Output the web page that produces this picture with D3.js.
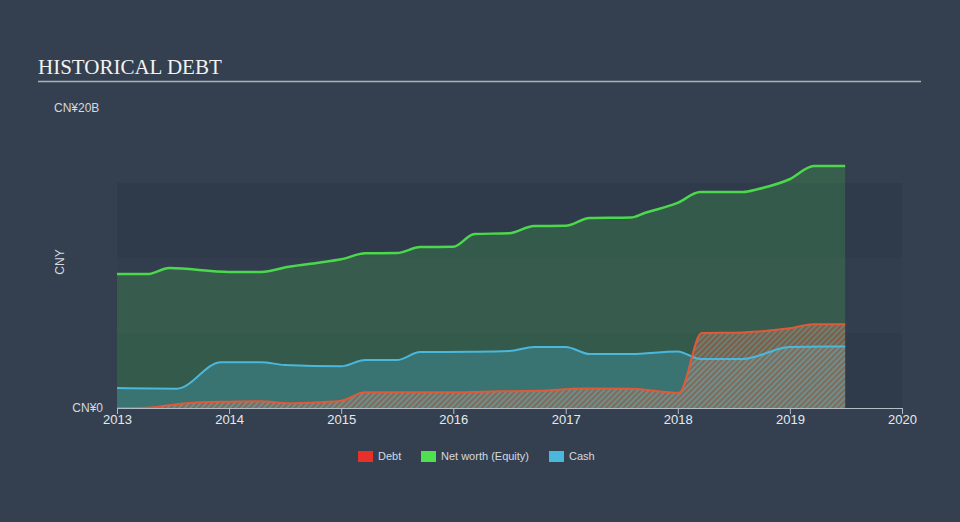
<!DOCTYPE html>
<html>
<head>
<meta charset="utf-8">
<script src="https://cdn.jsdelivr.net/npm/d3@7"></script>
<style>
    html, body { margin: 0; padding: 0; background: #34404f; }
    svg { display: block; font-family: "Liberation Sans", Arial, sans-serif; }
</style>
</head>
<body>
<div id="chart"></div>
<script>
    // values in CN¥ billions
    var equityDates  = ["2013-01-01", "2013-04-10", "2013-06-20", "2013-12-31", "2014-04-15", "2014-07-15", "2014-10-20", "2015-01-01", "2015-03-20", "2015-07-01", "2015-09-15", "2016-01-01", "2016-03-10", "2016-07-01", "2016-09-20", "2017-01-01", "2017-03-20", "2017-08-01", "2017-09-15", "2017-12-31", "2018-03-15", "2018-08-01", "2018-09-20", "2018-12-31", "2019-03-20", "2019-06-30"];
    var equityValues = [8.93, 8.93, 9.33, 9.07, 9.07, 9.42, 9.69, 9.91, 10.31, 10.33, 10.73, 10.75, 11.6, 11.65, 12.13, 12.15, 12.67, 12.7, 13.0, 13.67, 14.4, 14.4, 14.6, 15.25, 16.13, 16.13];

    var cashDates  = ["2013-01-01", "2013-07-15", "2013-12-05", "2014-04-15", "2014-07-01", "2015-01-01", "2015-03-20", "2015-07-01", "2015-09-15", "2016-03-01", "2016-07-01", "2016-09-20", "2017-01-01", "2017-03-20", "2017-08-01", "2017-12-31", "2018-03-15", "2018-08-01", "2018-12-31", "2019-06-30"];
    var cashValues = [1.33, 1.29, 3.05, 3.05, 2.87, 2.78, 3.2, 3.2, 3.73, 3.75, 3.8, 4.07, 4.07, 3.6, 3.6, 3.77, 3.27, 3.27, 4.07, 4.1];

    var debtDates  = ["2013-01-01", "2013-04-10", "2013-07-01", "2013-10-01", "2014-01-01", "2014-04-15", "2014-07-15", "2014-10-20", "2015-01-01", "2015-03-20", "2015-07-01", "2016-01-01", "2016-06-01", "2016-10-01", "2017-03-01", "2017-08-01", "2018-01-05", "2018-03-20", "2018-08-01", "2018-09-20", "2018-12-31", "2019-03-20", "2019-06-30"];
    var debtValues = [0, 0.02, 0.22, 0.38, 0.42, 0.45, 0.31, 0.38, 0.49, 1.05, 1.05, 1.05, 1.11, 1.15, 1.3, 1.29, 1.02, 5.0, 5.04, 5.1, 5.31, 5.58, 5.58];

    var yearTicks = [2013, 2014, 2015, 2016, 2017, 2018, 2019, 2020];
    var bandStops = [0, 5, 10, 15];
    var legendLabels = ["Debt", "Net worth (Equity)", "Cash"];
    var legendColors = ["#e8302a", "#4fe04f", "#4ab8dc"];

    var width = 960, height = 522;
    var parse = d3.timeParse("%Y-%m-%d");

    function series(dates, values) {
        return dates.map(function (d, i) { return { date: parse(d), value: values[i] }; });
    }
    var equity = series(equityDates, equityValues);
    var cash = series(cashDates, cashValues);
    var debt = series(debtDates, debtValues);

    var x = d3.scaleTime()
        .domain([new Date(2013, 0, 1), new Date(2020, 0, 1)])
        .range([117, 902]);
    var y = d3.scaleLinear().domain([0, 20]).range([408, 108]);

    var svg = d3.select("#chart").append("svg")
        .attr("width", width)
        .attr("height", height);

    svg.append("rect").attr("width", width).attr("height", height).attr("fill", "#34404f");

    // title
    svg.append("text")
        .attr("x", 38).attr("y", 74)
        .attr("font-family", "'Liberation Serif', 'Times New Roman', serif")
        .attr("font-size", 21)
        .attr("fill", "#f2f2f2")
        .text("HISTORICAL DEBT");
    svg.append("line")
        .attr("x1", 38).attr("x2", 921).attr("y1", 81.5).attr("y2", 81.5)
        .attr("stroke", "#aab2bb").attr("stroke-width", 1.5);

    // background bands
    var bandColors = ["#2f3b4b", "#323e4e", "#2f3b4b"];
    for (var b = 0; b < bandStops.length - 1; b++) {
        svg.append("rect")
            .attr("x", x.range()[0])
            .attr("width", x.range()[1] - x.range()[0])
            .attr("y", y(bandStops[b + 1]))
            .attr("height", y(bandStops[b]) - y(bandStops[b + 1]))
            .attr("fill", bandColors[b]);
    }

    // hatch for debt
    var defs = svg.append("defs");
    var pat = defs.append("pattern")
        .attr("id", "hatch")
        .attr("patternUnits", "userSpaceOnUse")
        .attr("width", 4).attr("height", 4)
        .attr("patternTransform", "rotate(45)");
    pat.append("rect").attr("width", 2).attr("height", 4).attr("fill", "rgba(220,96,62,0.45)");
    pat.append("rect").attr("x", 2).attr("width", 2).attr("height", 4).attr("fill", "rgba(180,180,175,0.42)");

    var area = d3.area()
        .x(function (d) { return x(d.date); })
        .y0(y(0))
        .y1(function (d) { return y(d.value); })
        .curve(d3.curveMonotoneX);
    var line = d3.line()
        .x(function (d) { return x(d.date); })
        .y(function (d) { return y(d.value); })
        .curve(d3.curveMonotoneX);

    svg.append("path").datum(equity).attr("d", area).attr("fill", "rgba(76,216,76,0.2)");
    svg.append("path").datum(cash).attr("d", area).attr("fill", "rgba(74,184,220,0.27)");
    svg.append("path").datum(debt).attr("d", area).attr("fill", "url(#hatch)");

    svg.append("path").datum(equity).attr("d", line)
        .attr("fill", "none").attr("stroke", "#4cd84c").attr("stroke-width", 2.5);
    svg.append("path").datum(cash).attr("d", line)
        .attr("fill", "none").attr("stroke", "#4ab8dc").attr("stroke-width", 2);
    svg.append("path").datum(debt).attr("d", line)
        .attr("fill", "none").attr("stroke", "#e05a3a").attr("stroke-width", 2);

    // x axis
    var xAxis = d3.axisBottom(x)
        .tickValues(yearTicks.map(function (yr) { return new Date(yr, 0, 1); }))
        .tickFormat(d3.timeFormat("%Y"))
        .tickSize(6)
        .tickSizeOuter(0);
    var gx = svg.append("g").attr("transform", "translate(0,408)").call(xAxis);
    gx.select(".domain").attr("stroke", "#b4bcc6");
    gx.selectAll(".tick line").attr("stroke", "#b4bcc6");
    gx.selectAll(".tick text")
        .attr("fill", "#e6e9ed")
        .attr("font-size", 13)
        .attr("font-family", "'Liberation Sans', Arial, sans-serif")
        .attr("dy", "0.85em")
        .attr("y", 5);

    // y labels
    svg.append("text")
        .attr("x", 54).attr("y", y(20)).attr("dy", "0.35em")
        .attr("font-size", 12).attr("fill", "#d4d9df")
        .text("CN¥20B");
    svg.append("text")
        .attr("x", 103).attr("y", y(0)).attr("dy", "0.35em")
        .attr("text-anchor", "end")
        .attr("font-size", 12).attr("fill", "#d4d9df")
        .text("CN¥0");
    svg.append("text")
        .attr("transform", "translate(64,262) rotate(-90)")
        .attr("text-anchor", "middle")
        .attr("font-size", 12).attr("fill", "#d4d9df")
        .text("CNY");

    // legend
    var legendX = [358, 421, 549];
    legendLabels.forEach(function (label, i) {
        svg.append("rect")
            .attr("x", legendX[i]).attr("y", 451)
            .attr("width", 15).attr("height", 11)
            .attr("fill", legendColors[i]);
        svg.append("text")
            .attr("x", legendX[i] + 20).attr("y", 456.5).attr("dy", "0.35em")
            .attr("font-size", 11).attr("fill", "#d4d9df")
            .text(label);
    });
</script>
</body>
</html>
